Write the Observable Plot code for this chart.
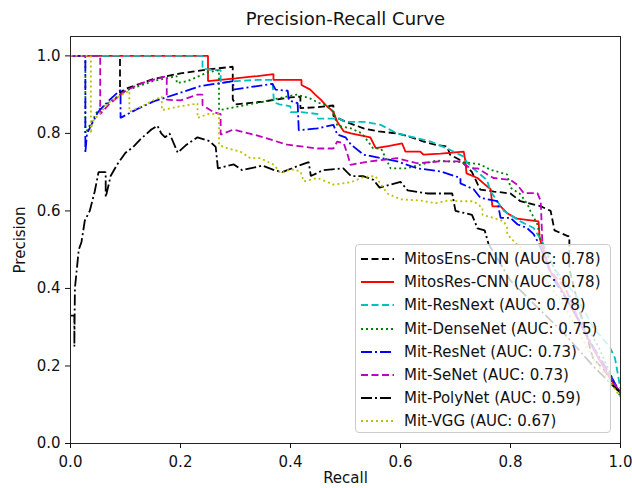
<!DOCTYPE html>
<html>
<head>
<meta charset="utf-8">
<script src="https://cdn.jsdelivr.net/npm/d3@7"></script>
<script src="https://cdn.jsdelivr.net/npm/@observablehq/plot@0.6"></script>
<style>
  html, body { margin: 0; padding: 0; background: white; }
  #wrap { position: relative; width: 632px; height: 488px; font-family: "DejaVu Sans", sans-serif; }
  #legend { position: absolute; left: 355px; top: 244px; width: 256px; height: 189px;
    background: rgba(255,255,255,0.8); border: 1px solid #cccccc; border-radius: 4px; box-sizing: border-box; }
  .entry { position: absolute; left: 0; height: 20px; width: 255px; }
  .entry svg { position: absolute; left: 4px; top: 0; }
  .entry span { position: absolute; left: 48px; top: 0; line-height: 20px; font-size: 15px; color: #111; white-space: nowrap; }
</style>
</head>
<body>
<div id="wrap"></div>
<script>
// Series names, colours and AUCs
const names = ["MitosEns-CNN", "MitosRes-CNN", "Mit-ResNext", "Mit-DenseNet", "Mit-ResNet", "Mit-SeNet", "Mit-PolyNet", "Mit-VGG"];
const aucs = ["0.78", "0.78", "0.78", "0.75", "0.73", "0.73", "0.59", "0.67"];
const colors = ["#000000", "#ff0000", "#00bfbf", "#008000", "#0000ff", "#bf00bf", "#000000", "#bfbf00"];
const dashes = ["7,3.5", "none", "7,3.5", "2,3", "11,3,2,3", "7,3.5", "11,3,2,3", "2,3"];

// Recall / precision per series
const ensR = [0, 0.09, 0.09, 0.1, 0.15, 0.2, 0.25, 0.295, 0.295, 0.3, 0.35, 0.4, 0.418, 0.418, 0.45, 0.478, 0.478, 0.5, 0.533, 0.56, 0.594, 0.62, 0.642, 0.665, 0.685, 0.69, 0.71, 0.73, 0.745, 0.77, 0.8, 0.818, 0.855, 0.873, 0.88, 0.904, 0.907, 0.907, 0.93, 0.95, 0.97, 1.0];
const ensP = [1, 1, 0.905, 0.915, 0.94, 0.955, 0.965, 0.972, 0.888, 0.875, 0.882, 0.893, 0.895, 0.865, 0.868, 0.872, 0.845, 0.83, 0.813, 0.805, 0.8, 0.79, 0.779, 0.77, 0.766, 0.745, 0.73, 0.7, 0.655, 0.65, 0.645, 0.625, 0.612, 0.6, 0.55, 0.535, 0.535, 0.45, 0.32, 0.22, 0.19, 0.13];

const resR = [0, 0.25, 0.25, 0.3, 0.34, 0.369, 0.369, 0.4, 0.42, 0.42, 0.436, 0.445, 0.455, 0.464, 0.478, 0.485, 0.497, 0.51, 0.545, 0.555, 0.58, 0.603, 0.609, 0.636, 0.642, 0.673, 0.715, 0.718, 0.72, 0.74, 0.751, 0.764, 0.767, 0.782, 0.794, 0.812, 0.851, 0.853, 0.87, 0.9, 0.93, 0.96, 0.98, 1.0];
const resP = [1, 1, 0.935, 0.942, 0.948, 0.953, 0.938, 0.938, 0.938, 0.925, 0.913, 0.9, 0.887, 0.873, 0.856, 0.83, 0.805, 0.8, 0.79, 0.762, 0.768, 0.774, 0.753, 0.753, 0.745, 0.748, 0.753, 0.728, 0.697, 0.685, 0.671, 0.656, 0.612, 0.612, 0.594, 0.58, 0.573, 0.53, 0.45, 0.38, 0.3, 0.22, 0.17, 0.13];

const nextR = [0, 0.24, 0.24, 0.26, 0.273, 0.273, 0.3, 0.34, 0.367, 0.37, 0.38, 0.4, 0.4, 0.42, 0.45, 0.45, 0.488, 0.5, 0.533, 0.564, 0.594, 0.618, 0.655, 0.685, 0.715, 0.721, 0.74, 0.757, 0.764, 0.788, 0.818, 0.842, 0.858, 0.88, 0.92, 0.95, 0.98, 0.99, 1.0];
const nextP = [1, 1, 0.967, 0.963, 0.963, 0.93, 0.935, 0.938, 0.938, 0.88, 0.875, 0.87, 0.855, 0.855, 0.85, 0.838, 0.838, 0.83, 0.83, 0.822, 0.8, 0.792, 0.779, 0.761, 0.74, 0.725, 0.7, 0.68, 0.65, 0.6, 0.573, 0.556, 0.52, 0.45, 0.38, 0.3, 0.25, 0.22, 0.14];

const denseR = [0, 0.027, 0.027, 0.05, 0.1, 0.15, 0.193, 0.193, 0.213, 0.25, 0.27, 0.27, 0.3, 0.35, 0.4, 0.412, 0.436, 0.449, 0.464, 0.478, 0.485, 0.51, 0.53, 0.55, 0.565, 0.582, 0.612, 0.665, 0.72, 0.745, 0.764, 0.794, 0.8, 0.818, 0.831, 0.836, 0.849, 0.855, 0.88, 0.92, 0.96, 1.0];
const denseP = [1, 1, 0.8, 0.86, 0.91, 0.935, 0.948, 0.93, 0.935, 0.958, 0.963, 0.86, 0.868, 0.882, 0.897, 0.9, 0.89, 0.88, 0.873, 0.856, 0.82, 0.813, 0.8, 0.762, 0.76, 0.71, 0.71, 0.73, 0.725, 0.72, 0.706, 0.694, 0.66, 0.643, 0.617, 0.6, 0.565, 0.52, 0.45, 0.35, 0.25, 0.12];

const resnetR = [0, 0.027, 0.027, 0.03, 0.05, 0.07, 0.091, 0.091, 0.12, 0.15, 0.2, 0.236, 0.273, 0.296, 0.296, 0.32, 0.367, 0.373, 0.395, 0.397, 0.413, 0.415, 0.449, 0.478, 0.485, 0.5, 0.51, 0.533, 0.57, 0.594, 0.63, 0.673, 0.709, 0.709, 0.733, 0.745, 0.776, 0.782, 0.8, 0.813, 0.83, 0.842, 0.851, 0.88, 0.92, 0.95, 0.98, 1.0];
const resnetP = [1, 1, 0.75, 0.8, 0.855, 0.885, 0.912, 0.84, 0.862, 0.882, 0.905, 0.922, 0.93, 0.935, 0.913, 0.918, 0.928, 0.913, 0.91, 0.885, 0.878, 0.808, 0.813, 0.822, 0.797, 0.79, 0.771, 0.745, 0.735, 0.728, 0.71, 0.702, 0.685, 0.671, 0.656, 0.634, 0.625, 0.582, 0.582, 0.565, 0.556, 0.54, 0.517, 0.42, 0.33, 0.25, 0.18, 0.13];

const seR = [0, 0.054, 0.054, 0.07, 0.1, 0.13, 0.175, 0.175, 0.2, 0.231, 0.24, 0.24, 0.26, 0.273, 0.273, 0.296, 0.333, 0.357, 0.394, 0.449, 0.478, 0.485, 0.497, 0.505, 0.509, 0.545, 0.594, 0.63, 0.673, 0.709, 0.727, 0.74, 0.769, 0.8, 0.812, 0.824, 0.849, 0.855, 0.858, 0.87, 0.9, 0.93, 0.96, 1.0];
const seP = [1, 1, 0.85, 0.875, 0.91, 0.93, 0.948, 0.887, 0.885, 0.9, 0.9, 0.873, 0.855, 0.85, 0.797, 0.81, 0.797, 0.787, 0.771, 0.761, 0.761, 0.779, 0.774, 0.74, 0.719, 0.728, 0.736, 0.723, 0.728, 0.728, 0.71, 0.71, 0.685, 0.68, 0.668, 0.646, 0.646, 0.625, 0.514, 0.45, 0.4, 0.3, 0.22, 0.13];

const polyR = [0, 0.007, 0.007, 0.008, 0.015, 0.02, 0.026, 0.035, 0.044, 0.051, 0.064, 0.064, 0.073, 0.085, 0.1, 0.114, 0.128, 0.147, 0.158, 0.165, 0.172, 0.18, 0.195, 0.21, 0.231, 0.253, 0.264, 0.268, 0.297, 0.312, 0.349, 0.371, 0.385, 0.415, 0.433, 0.437, 0.459, 0.496, 0.51, 0.532, 0.551, 0.562, 0.6, 0.613, 0.65, 0.694, 0.7, 0.73, 0.74, 0.753, 0.76, 0.8, 0.85, 0.9, 0.95, 1.0];
const polyP = [0.33, 0.33, 0.25, 0.4, 0.5, 0.52, 0.575, 0.6, 0.65, 0.7, 0.7, 0.635, 0.69, 0.72, 0.75, 0.765, 0.786, 0.81, 0.82, 0.8, 0.79, 0.8, 0.75, 0.77, 0.79, 0.78, 0.765, 0.71, 0.72, 0.705, 0.717, 0.705, 0.7, 0.717, 0.726, 0.69, 0.705, 0.71, 0.69, 0.69, 0.68, 0.66, 0.675, 0.653, 0.645, 0.645, 0.6, 0.59, 0.555, 0.55, 0.515, 0.42, 0.35, 0.28, 0.2, 0.13];

const vggR = [0, 0.037, 0.037, 0.04, 0.07, 0.1, 0.107, 0.107, 0.13, 0.15, 0.166, 0.166, 0.2, 0.231, 0.231, 0.25, 0.27, 0.27, 0.285, 0.309, 0.327, 0.345, 0.37, 0.382, 0.4, 0.418, 0.424, 0.449, 0.478, 0.51, 0.532, 0.554, 0.576, 0.6, 0.635, 0.664, 0.687, 0.709, 0.733, 0.749, 0.749, 0.769, 0.788, 0.794, 0.794, 0.806, 0.818, 0.85, 0.9, 0.95, 1.0];
const vggP = [1, 1, 0.8, 0.83, 0.88, 0.905, 0.91, 0.856, 0.87, 0.885, 0.895, 0.86, 0.87, 0.877, 0.84, 0.85, 0.85, 0.77, 0.762, 0.753, 0.736, 0.736, 0.719, 0.697, 0.708, 0.702, 0.676, 0.685, 0.668, 0.674, 0.687, 0.69, 0.645, 0.63, 0.627, 0.62, 0.627, 0.625, 0.625, 0.608, 0.59, 0.582, 0.573, 0.556, 0.54, 0.522, 0.505, 0.45, 0.35, 0.22, 0.12];

const recalls = [ensR, resR, nextR, denseR, resnetR, seR, polyR, vggR];
const precisions = [ensP, resP, nextP, denseP, resnetP, seP, polyP, vggP];
const ticks = [0, 0.2, 0.4, 0.6, 0.8, 1.0];

const series = names.map((n, i) => recalls[i].map((r, j) => ({series: n, recall: r, precision: precisions[i][j]})));

const lineMarks = series.map((data, i) => Plot.line(data, {
  x: "recall", y: "precision",
  stroke: colors[i], strokeWidth: 1.8,
  strokeDasharray: dashes[i] === "none" ? undefined : dashes[i],
  strokeLinejoin: "miter", strokeLinecap: "butt"
}));

const chart = Plot.plot({
  width: 632, height: 488,
  marginLeft: 70, marginRight: 12, marginTop: 36, marginBottom: 45,
  style: {fontFamily: "DejaVu Sans, sans-serif", fontSize: "15px", background: "white", color: "#111"},
  x: {domain: [0, 1]},
  y: {domain: [0, 1.05]},
  marks: [
    ...lineMarks,
    Plot.frame({stroke: "#222", strokeWidth: 1}),
    Plot.axisX({ticks: ticks, tickFormat: d3.format(".1f"), tickSize: 5, tickPadding: 8, label: null, fontSize: 15}),
    Plot.axisY({ticks: ticks, tickFormat: d3.format(".1f"), tickSize: 5, tickPadding: 5, label: null, fontSize: 15}),
    Plot.text(["Recall"], {text: d => d, frameAnchor: "bottom", lineAnchor: "middle", textAnchor: "middle", dy: 35, fontSize: 15}),
    Plot.text(["Precision"], {text: d => d, frameAnchor: "left", lineAnchor: "middle", textAnchor: "middle", dx: -50, rotate: -90, fontSize: 15}),
    Plot.text(["Precision-Recall Curve"], {text: d => d, frameAnchor: "top", lineAnchor: "middle", textAnchor: "middle", dy: -17, fontSize: 18})
  ]
});

const wrap = document.getElementById("wrap");
wrap.appendChild(chart);

// Legend
const legend = document.createElement("div");
legend.id = "legend";
names.forEach((n, i) => {
  const e = document.createElement("div");
  e.className = "entry";
  e.style.top = (4 + i * 23.2) + "px";
  const dash = dashes[i] === "none" ? "" : `stroke-dasharray="${dashes[i]}"`;
  e.innerHTML = `<svg width="36" height="20"><line x1="1" x2="34" y1="10" y2="10" stroke="${colors[i]}" stroke-width="1.8" ${dash}/></svg><span>${n} (AUC: ${aucs[i]})</span>`;
  legend.appendChild(e);
});
wrap.appendChild(legend);
</script>
</body>
</html>
